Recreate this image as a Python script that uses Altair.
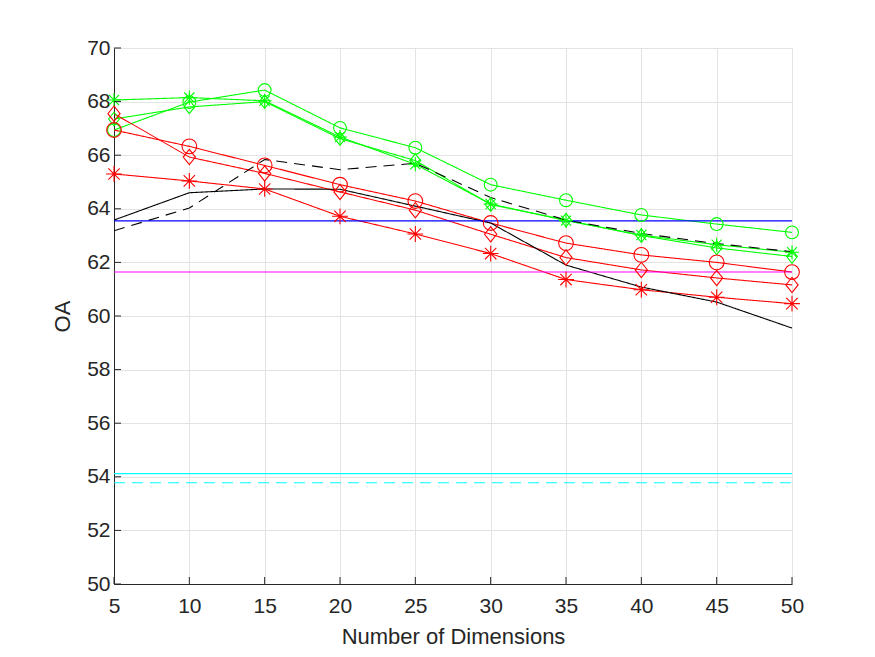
import altair as alt
import pandas as pd

dims = [5, 10, 15, 20, 25, 30, 35, 40, 45, 50]

green_circle = [66.94, 67.98, 68.43, 67.02, 66.28, 64.90, 64.32, 63.77, 63.43, 63.12]
green_diamond = [67.35, 67.80, 68.00, 66.62, 65.80, 64.16, 63.58, 63.00, 62.54, 62.22]
green_star = [68.06, 68.15, 68.03, 66.68, 65.66, 64.18, 63.56, 63.02, 62.66, 62.38]
red_circle = [66.94, 66.33, 65.62, 64.90, 64.29, 63.47, 62.72, 62.28, 62.00, 61.64]
red_diamond = [67.55, 65.93, 65.32, 64.63, 63.95, 63.05, 62.18, 61.72, 61.42, 61.16]
red_star = [65.30, 65.04, 64.74, 63.72, 63.06, 62.33, 61.36, 60.98, 60.70, 60.46]
black_solid = [63.58, 64.60, 64.74, 64.73, 64.10, 63.47, 61.90, 61.08, 60.52, 59.55]
black_dashed = [63.18, 64.03, 65.84, 65.46, 65.70, 64.42, 63.58, 63.08, 62.70, 62.40]

blue_level = 63.55
magenta_level = 61.64
cyan_level = 54.12
cyan_dashed_level = 53.78

x_ticks = [5, 10, 15, 20, 25, 30, 35, 40, 45, 50]
y_ticks = [50, 52, 54, 56, 58, 60, 62, 64, 66, 68, 70]

series = {
    "G_o": green_circle, "G_d": green_diamond, "G_s": green_star,
    "R_o": red_circle, "R_d": red_diamond, "R_s": red_star,
    "K_solid": black_solid, "K_dash": black_dashed,
}
rows = []
for name, vals in series.items():
    for d, v in zip(dims, vals):
        rows.append({"series": name, "dim": d, "oa": v})
for name, lvl in [("B", blue_level), ("M", magenta_level), ("C", cyan_level), ("C_dash", cyan_dashed_level)]:
    for d in (dims[0], dims[-1]):
        rows.append({"series": name, "dim": d, "oa": lvl})
df = pd.DataFrame(rows)

names = ["G_o", "G_d", "G_s", "R_o", "R_d", "R_s", "K_solid", "K_dash", "B", "M", "C", "C_dash"]
colors = ["#00ff00", "#00ff00", "#00ff00", "#ff0000", "#ff0000", "#ff0000",
          "#000000", "#000000", "#0000ff", "#ff00ff", "#00ffff", "#00ffff"]
dashes = [[1, 0], [1, 0], [1, 0], [1, 0], [1, 0], [1, 0],
          [1, 0], [11, 7], [1, 0], [1, 0], [1, 0], [11, 7]]

marker_names = ["G_o", "G_d", "G_s", "R_o", "R_d", "R_s"]
circle = "circle"
diamond = "M0,-1L0.8,0L0,1L-0.8,0Z"
star = "M-1,0L1,0M0,-1L0,1M-0.72,-0.72L0.72,0.72M-0.72,0.72L0.72,-0.72"
marker_shapes = [circle, diamond, star, circle, diamond, star]
marker_sizes = [165, 250, 135, 165, 250, 135]
marker_colors = colors[:6]

xscale = alt.Scale(domain=[5, 50], nice=False, zero=False)
yscale = alt.Scale(domain=[50, 70], nice=False, zero=False)

axis_font = "Liberation Sans"
x_axis = alt.Axis(values=x_ticks, title="Number of Dimensions", grid=True, gridColor="#e3e3e3",
                  domainColor="#262626", ticks=False, labelFontSize=21, labelColor="#262626",
                  titleFontSize=22, titleFontWeight="normal", titleColor="#262626",
                  labelPadding=11, titlePadding=10, labelFont=axis_font, titleFont=axis_font,
                  labelFlush=False)
y_axis = alt.Axis(values=y_ticks, title="OA", grid=True, gridColor="#e3e3e3",
                  domainColor="#262626", ticks=False, labelFontSize=21, labelColor="#262626",
                  titleFontSize=22, titleFontWeight="normal", titleColor="#262626",
                  labelPadding=4, titlePadding=12, labelFont=axis_font, titleFont=axis_font,
                  labelFlush=False)

base = alt.Chart(df)
lines = base.mark_line(strokeWidth=1.1, clip=True).encode(
    x=alt.X("dim:Q", scale=xscale, axis=x_axis),
    y=alt.Y("oa:Q", scale=yscale, axis=y_axis),
    color=alt.Color("series:N", scale=alt.Scale(domain=names, range=colors), legend=None),
    strokeDash=alt.StrokeDash("series:N", scale=alt.Scale(domain=names, range=dashes), legend=None),
    detail="series:N",
)
points = base.transform_filter(
    alt.FieldOneOfPredicate(field="series", oneOf=marker_names)
).mark_point(filled=False, strokeWidth=1.1, opacity=1).encode(
    x=alt.X("dim:Q", scale=xscale),
    y=alt.Y("oa:Q", scale=yscale),
    stroke=alt.Stroke("series:N", scale=alt.Scale(domain=marker_names, range=marker_colors), legend=None),
    shape=alt.Shape("series:N", scale=alt.Scale(domain=marker_names, range=marker_shapes), legend=None),
    size=alt.Size("series:N", scale=alt.Scale(domain=marker_names, range=marker_sizes), legend=None),
)

xt = pd.DataFrame({"t": x_ticks})
yt = pd.DataFrame({"t": y_ticks})
xticks = alt.Chart(xt).mark_rule(color="#262626", strokeWidth=1).encode(
    x=alt.X("t:Q", scale=xscale), y=alt.value(536), y2=alt.value(529))
yticks = alt.Chart(yt).mark_rule(color="#262626", strokeWidth=1).encode(
    y=alt.Y("t:Q", scale=yscale), x=alt.value(0), x2=alt.value(7))

chart = alt.layer(lines, points, xticks, yticks).resolve_scale(
    color="independent", shape="independent", size="independent", stroke="independent"
).properties(
    width=678, height=536,
    autosize=alt.AutoSizeParams(type="none"),
    padding={"left": 114, "top": 48, "right": 83, "bottom": 73},
    background="white",
).configure_view(stroke=None)

chart.save("out.html", embed_options={"renderer": "svg", "actions": False})
